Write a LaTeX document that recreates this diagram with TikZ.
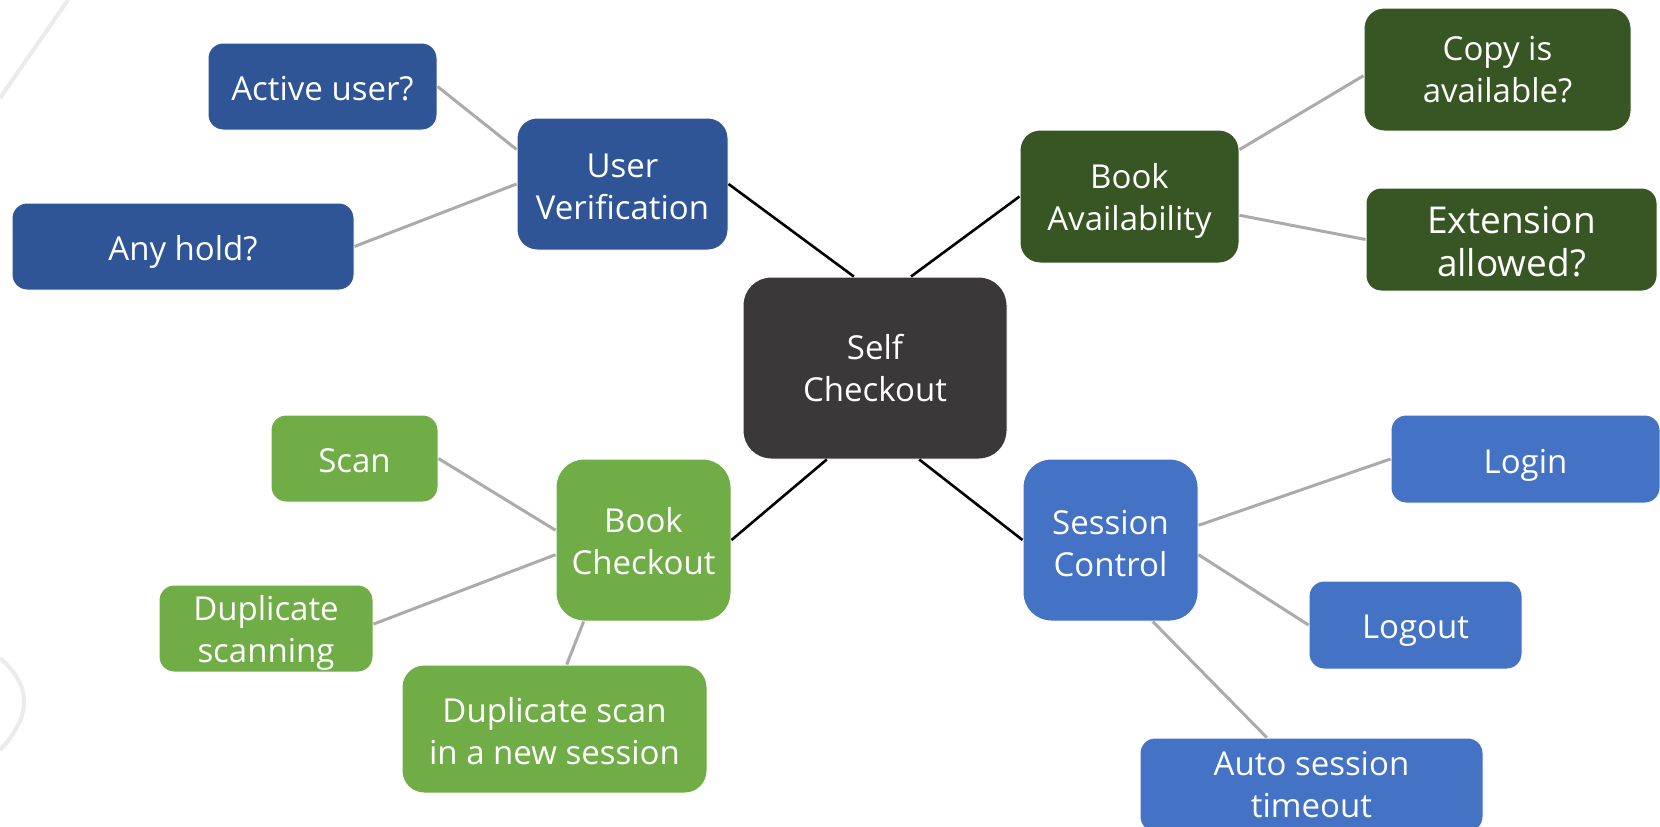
\documentclass[tikz,border=0pt]{standalone}
\usepackage{fontspec}
\setmainfont{Open Sans}
\usetikzlibrary{calc}
\definecolor{cUV}{HTML}{2F5597}
\definecolor{cBA}{HTML}{375623}
\definecolor{cSC}{HTML}{3A3838}
\definecolor{cBC}{HTML}{70AD47}
\definecolor{cSS}{HTML}{4472C4}
\definecolor{cLine}{HTML}{AEAAAA}
\definecolor{cDecor}{HTML}{EBEBEB}
\newcommand\lowtxt[1]{\rule{0pt}{#1}}
\begin{document}
\begin{tikzpicture}[x=1pt,y=-1pt,
  box/.style={draw=white, line width=1pt, rounded corners=15pt, text=white, align=center,
    inner sep=0pt, font=\fontsize{33}{42}\selectfont},
  bigbox/.style={box, rounded corners=28pt},
  mainline/.style={draw=black, line width=2.6pt},
  subline/.style={draw=cLine, line width=3pt},
  decor/.style={draw=cDecor, line width=4pt}
]
\clip (0,0) rectangle (1660,827);
\fill[white] (0,0) rectangle (1660,827);
% faint background decorations
\draw[decor] (0,98) -- (68,0);
\draw[decor] (0,658) .. controls (32,686) and (32,716) .. (0,750);

% centre
\node[bigbox, fill=cSC, minimum width=264pt, minimum height=182pt] (sc) at (875,368) {Self\\Checkout};

% user verification branch
\node[box, rounded corners=20pt, fill=cUV, minimum width=211pt, minimum height=132pt] (uv) at (622.5,184) {\lowtxt{30pt}User\\Verification};
\node[box, fill=cUV, minimum width=229pt, minimum height=87pt] (au) at (322.5,86.5) {\lowtxt{29pt}Active user?};
\node[box, fill=cUV, minimum width=342pt, minimum height=87pt] (ah) at (183,246.5) {\lowtxt{35pt}Any hold?};

% book availability branch
\node[box, rounded corners=20pt, fill=cBA, minimum width=219pt, minimum height=133pt] (ba) at (1129.5,196.5) {\lowtxt{34pt}Book\\Availability};
\node[box, rounded corners=20pt, fill=cBA, minimum width=267pt, minimum height=123pt] (ca) at (1497.5,69.5) {Copy is\\available?};
\node[box, fill=cBA, minimum width=291pt, minimum height=103pt, font=\fontsize{37}{43}\selectfont] (ea) at (1511.5,239.5) {\lowtxt{32pt}Extension\\allowed?};

% book checkout branch
\node[bigbox, fill=cBC, minimum width=175pt, minimum height=162pt] (bc) at (643.5,540) {\lowtxt{28pt}Book\\Checkout};
\node[box, fill=cBC, minimum width=167pt, minimum height=87pt] (scan) at (354.5,458.5) {\lowtxt{29pt}Scan};
\node[box, fill=cBC, minimum width=214pt, minimum height=87pt] (ds) at (266,628.5) {\lowtxt{34pt}Duplicate\\scanning};
\node[box, rounded corners=22pt, fill=cBC, minimum width=305pt, minimum height=128pt] (dn) at (554.5,729) {\lowtxt{29pt}Duplicate scan\\in a new session};

% session control branch
\node[bigbox, fill=cSS, minimum width=175pt, minimum height=162pt] (ss) at (1110.5,540) {\lowtxt{31pt}Session\\Control};
\node[box, fill=cSS, minimum width=269pt, minimum height=88pt] (li) at (1525.5,459) {\lowtxt{37pt}Login};
\node[box, fill=cSS, minimum width=213pt, minimum height=88pt] (lo) at (1415.5,625) {\lowtxt{35pt}Logout};
\node[box, fill=cSS, minimum width=343pt, minimum height=94pt] (at) at (1311.5,785) {Auto session\\timeout};

% main connectors
\draw[mainline] (uv.east) -- ($(sc.north west)!0.42!(sc.north east)$);
\draw[mainline] (ba.west) -- ($(sc.north west)!0.636!(sc.north east)$);
\draw[mainline] ($(sc.south west)!0.318!(sc.south east)$) -- (bc.east);
\draw[mainline] ($(sc.south west)!0.667!(sc.south east)$) -- (ss.west);

% sub connectors
\draw[subline] (au.east) -- ($(uv.north west)!0.24!(uv.south west)$);
\draw[subline] (ah.east) -- (uv.west);
\draw[subline] ($(ba.north east)!0.15!(ba.south east)$) -- ($(ca.north west)!0.55!(ca.south west)$);
\draw[subline] ($(ba.north east)!0.64!(ba.south east)$) -- (ea.west);
\draw[subline] (scan.east) -- ($(bc.north west)!0.44!(bc.south west)$);
\draw[subline] ($(ds.north east)!0.45!(ds.south east)$) -- ($(bc.north west)!0.59!(bc.south west)$);
\draw[subline] ($(dn.north west)!0.54!(dn.north east)$) -- ($(bc.south west)!0.16!(bc.south east)$);
\draw[subline] ($(ss.north east)!0.41!(ss.south east)$) -- (li.west);
\draw[subline] ($(ss.north east)!0.59!(ss.south east)$) -- (lo.west);
\draw[subline] ($(ss.south west)!0.74!(ss.south east)$) -- ($(at.north west)!0.37!(at.north east)$);
\end{tikzpicture}
\end{document}
